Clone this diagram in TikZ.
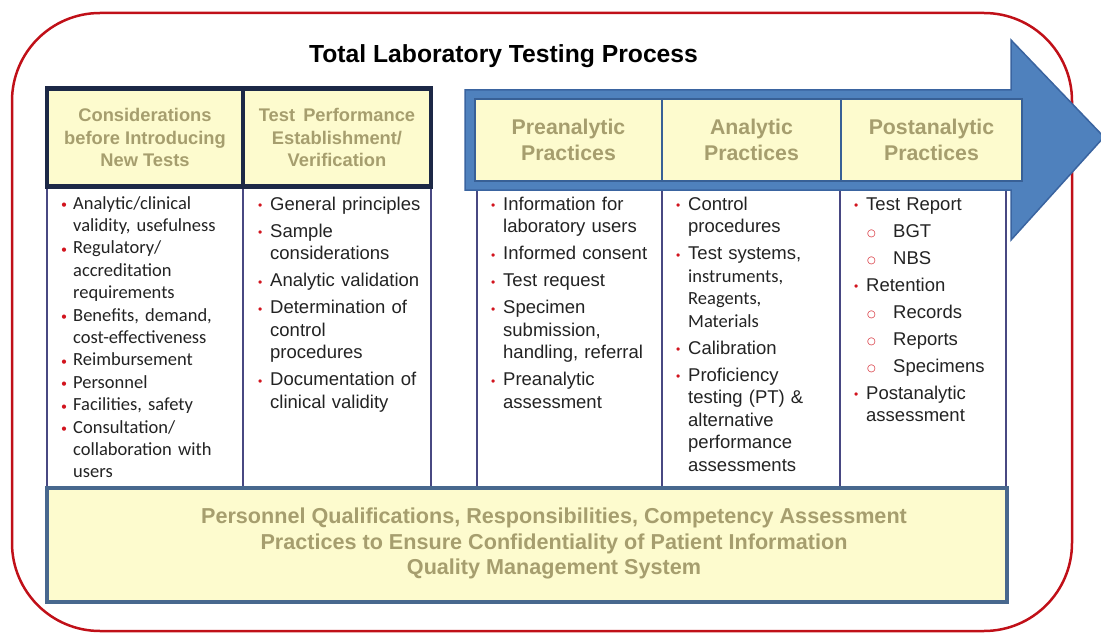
\documentclass[tikz,border=0pt]{standalone}
\usepackage{fontspec}
\setmainfont{Liberation Sans}
\newfontfamily\calfont{Carlito}
\newfontfamily\djvfont{DejaVu Sans}
\definecolor{redframe}{RGB}{192,16,24}
\definecolor{navy}{RGB}{28,40,70}
\definecolor{cellline}{RGB}{72,72,130}
\definecolor{arrowblue}{RGB}{79,129,189}
\definecolor{arrowedge}{RGB}{58,100,160}
\definecolor{hdrblue}{RGB}{56,96,150}
\definecolor{paleyellow}{RGB}{253,251,206}
\definecolor{khaki}{RGB}{166,158,110}
\definecolor{qmsedge}{RGB}{72,104,142}
\definecolor{bulred}{RGB}{210,20,30}
\definecolor{bodytext}{RGB}{35,35,35}
\newcommand{\bitem}[1]{\hangindent=12pt\hangafter=1\noindent\makebox[12pt][l]{\raisebox{0.5pt}{\textcolor{bulred}{\fontsize{12}{12}\selectfont\textbullet}}}#1\par}
\newcommand{\sitem}[1]{\noindent\hspace*{13pt}\makebox[26pt][l]{\raisebox{0.5pt}{\textcolor{bulred}{\djvfont\fontsize{10}{10}\selectfont ○}}}#1\par}
\tikzset{
  hdrleft/.style={draw=navy, line width=4.5pt, fill=paleyellow, text=khaki, align=center,
    font=\bfseries\fontsize{18.3}{22.5}\selectfont, inner sep=0pt},
  hdrright/.style={draw=hdrblue, line width=2.5pt, fill=paleyellow, text=khaki, align=center,
    font=\bfseries\fontsize{21.3}{26}\selectfont, inner sep=0pt},
  cellbox/.style={draw=cellline, line width=1.3pt, fill=white, inner sep=0pt},
  celltext/.style={anchor=base west, inner sep=0pt, text width=#1, text=bodytext,
    font=\fontsize{18.5}{22.5}\selectfont},
  qmsbox/.style={draw=qmsedge, line width=4pt, fill=paleyellow, inner sep=0pt},
}
\begin{document}
\begin{tikzpicture}[x=1pt,y=-1pt]
\useasboundingbox (0,0) rectangle (1101,634);
% outer frame
\draw[redframe, line width=2.5pt, rounded corners=88pt] (12,13) rectangle (1072,631);
% title
\node[font=\bfseries\fontsize{24.7}{28}\selectfont, text=black, anchor=base] (title) at (503.5,63) {Total Laboratory Testing Process};
% left body cells
\node[cellbox, minimum width=196pt, minimum height=302pt] (b1) at (145,337) {};
\node[cellbox, minimum width=188pt, minimum height=302pt] (b2) at (337,337) {};
% right body cells
\node[cellbox, minimum width=185pt, minimum height=300pt] (c1) at (569.5,338) {};
\node[cellbox, minimum width=178pt, minimum height=300pt] (c2) at (751,338) {};
\node[cellbox, minimum width=166pt, minimum height=300pt] (c3) at (923,338) {};
% arrow
\draw[arrowedge, fill=arrowblue, line width=1.5pt, line join=miter]
  (465,90) -- (1011,90) -- (1011,40) -- (1104,137) -- (1011,240) -- (1011,190) -- (465,190) -- cycle;
% right headers
\node[hdrright, minimum width=187pt, minimum height=82pt] (p1) at (568.5,140) {Preanalytic\\Practices};
\node[hdrright, minimum width=179pt, minimum height=82pt] (p2) at (751.5,140) {Analytic\\Practices};
\node[hdrright, minimum width=181pt, minimum height=82pt] (p3) at (931.5,140) {Postanalytic\\Practices};
% left headers
\node[hdrleft, minimum width=196pt, minimum height=98pt] (h1) at (145,137.5) {Considerations\\before Introducing\\New Tests};
\node[hdrleft, minimum width=188pt, minimum height=98pt] (h2) at (337,137.5) {Test\ \,Performance\\Establishment/\\Verification};
% cell texts
\node[celltext=180pt, font=\calfont\fontsize{18.5}{22.4}\selectfont] (tx1) at (61,209) {\raggedright\setlength\parskip{0pt}%
\bitem{Analytic/clinical\newline validity, usefulness}%
\bitem{Regulatory/\newline accreditation\newline requirements}%
\bitem{Benefits, demand,\newline cost-effectiveness}%
\bitem{Reimbursement}%
\bitem{Personnel}%
\bitem{Facilities, safety}%
\bitem{Consultation/\newline collaboration with\newline users}};
\node[celltext=175pt] (tx2) at (258,210) {\raggedright\setlength\parskip{4.5pt}%
\bitem{General principles}%
\bitem{Sample\newline considerations}%
\bitem{Analytic validation}%
\bitem{Determination of\newline control\newline procedures}%
\bitem{Documentation of\newline clinical validity}};
\node[celltext=175pt] (tx3) at (491,210) {\raggedright\setlength\parskip{4.5pt}%
\bitem{Information for\newline laboratory users}%
\bitem{Informed consent}%
\bitem{Test request}%
\bitem{Specimen\newline submission,\newline handling, referral}%
\bitem{Preanalytic\newline assessment}};
\node[celltext=165pt] (tx4) at (676,210) {\raggedright\setlength\parskip{4.5pt}%
\bitem{Control\newline procedures}%
\bitem{Test systems,\newline {\calfont instruments,\newline Reagents,\newline Materials}}%
\bitem{Calibration}%
\bitem{Proficiency\newline testing (PT) \&\newline alternative\newline performance\newline assessments}};
\node[celltext=150pt] (tx5) at (854,210) {\raggedright\setlength\parskip{4.5pt}%
\bitem{Test Report}%
\sitem{BGT}%
\sitem{NBS}%
\bitem{Retention}%
\sitem{Records}%
\sitem{Reports}%
\sitem{Specimens}%
\bitem{Postanalytic\newline assessment}};
% bottom box
\node[qmsbox, minimum width=960pt, minimum height=114pt] (qms) at (527,545) {};
\node[text=khaki, align=center, font=\bfseries\fontsize{21.6}{25.5}\selectfont, inner sep=0pt] (qmstext) at (554,543.5)
  {Personnel Qualifications, Responsibilities, Competency Assessment\\Practices to Ensure Confidentiality of Patient Information\\Quality Management System};
\end{tikzpicture}
\end{document}
